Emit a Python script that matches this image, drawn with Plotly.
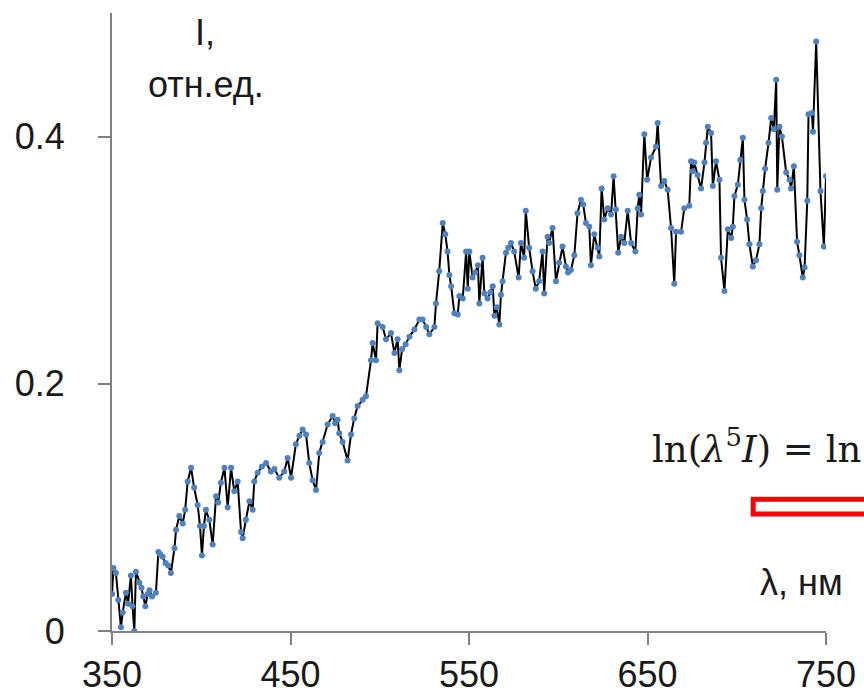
import plotly.graph_objects as go

# Spectrum: wavelength (nm) and relative intensity
wavelength = [
    350.0, 350.8, 352.2, 353.5, 355.0, 356.0, 357.8, 359.0, 360.6, 361.5,
    362.5, 363.4, 365.3, 366.5, 367.5, 368.7, 370.0, 371.0, 372.5, 374.6,
    376.0, 377.0, 378.4, 380.0, 381.5, 383.0, 385.0, 385.9, 387.7, 389.6,
    391.0, 392.4, 394.3, 396.0, 398.0, 399.3, 400.4, 401.5, 402.6, 404.5,
    406.4, 408.3, 409.5, 411.0, 413.0, 414.8, 416.7, 418.5, 420.4, 422.3,
    423.2, 425.0, 427.0, 428.8, 429.7, 431.6, 434.0, 436.3, 439.0, 441.0,
    443.7, 446.5, 448.4, 450.3, 453.0, 455.0, 456.8, 458.7, 460.5, 462.4,
    464.3, 466.1, 468.0, 470.8, 473.6, 475.0, 476.4, 477.3, 479.2, 482.0,
    483.9, 485.7, 487.6, 490.4, 492.3, 495.1, 496.0, 497.9, 498.8, 501.6,
    503.5, 506.3, 508.2, 510.0, 511.0, 512.5, 514.5, 516.6, 519.4, 522.2,
    524.0, 526.0, 527.8, 530.6, 531.5, 533.3, 535.3, 536.7, 538.0, 539.0,
    540.0, 541.8, 543.7, 544.6, 546.5, 548.4, 549.3, 550.2, 552.0, 553.5,
    555.0, 555.8, 557.6, 558.6, 560.4, 562.0, 563.3, 564.2, 565.5, 567.0,
    567.9, 568.8, 570.7, 572.0, 573.5, 575.3, 577.8, 579.1, 580.9, 581.8,
    583.7, 585.6, 587.4, 589.3, 591.2, 592.1, 594.0, 594.9, 596.8, 598.7,
    600.5, 602.4, 604.3, 605.5, 607.1, 609.0, 610.8, 612.7, 614.0, 615.5,
    617.4, 618.3, 620.2, 622.1, 623.0, 624.3, 625.8, 627.7, 629.6, 631.0,
    632.3, 633.6, 635.2, 637.0, 638.9, 640.8, 643.2, 644.5, 645.4, 646.4,
    648.2, 649.8, 652.0, 654.8, 655.7, 657.6, 659.4, 661.3, 663.2, 665.0,
    666.0, 668.8, 670.6, 673.4, 674.4, 675.3, 676.2, 678.1, 680.0, 681.9,
    682.8, 683.8, 685.6, 686.6, 688.4, 690.3, 691.2, 693.1, 695.0, 696.9,
    697.8, 698.7, 700.6, 702.0, 703.4, 704.3, 705.8, 707.1, 709.0, 710.8,
    712.7, 713.7, 714.6, 715.9, 717.8, 719.3, 720.8, 722.1, 722.7, 723.9,
    725.3, 727.7, 729.6, 730.4, 732.0, 733.8, 735.1, 737.0, 738.0, 739.5,
    740.2, 742.1, 742.7, 744.5, 746.9, 748.8, 750.0,
]
intensity = [
    0.030, 0.051, 0.047, 0.025, 0.003, 0.015, 0.031, 0.022, 0.045, 0.020,
    0.000, 0.048, 0.039, 0.035, 0.028, 0.020, 0.030, 0.033, 0.028, 0.031,
    0.064, 0.062, 0.060, 0.055, 0.053, 0.047, 0.067, 0.082, 0.093, 0.087,
    0.098, 0.121, 0.132, 0.116, 0.102, 0.085, 0.061, 0.085, 0.098, 0.090,
    0.070, 0.109, 0.104, 0.120, 0.132, 0.100, 0.132, 0.113, 0.121, 0.080,
    0.075, 0.090, 0.105, 0.098, 0.121, 0.128, 0.133, 0.136, 0.129, 0.131,
    0.124, 0.129, 0.140, 0.124, 0.151, 0.158, 0.163, 0.159, 0.136, 0.122,
    0.114, 0.144, 0.153, 0.167, 0.174, 0.168, 0.171, 0.160, 0.153, 0.138,
    0.159, 0.172, 0.182, 0.187, 0.190, 0.219, 0.233, 0.219, 0.249, 0.246,
    0.236, 0.241, 0.225, 0.236, 0.211, 0.228, 0.232, 0.238, 0.244, 0.252,
    0.252, 0.246, 0.240, 0.246, 0.265, 0.291, 0.330, 0.321, 0.307, 0.288,
    0.279, 0.257, 0.256, 0.271, 0.269, 0.307, 0.277, 0.307, 0.286, 0.290,
    0.296, 0.265, 0.302, 0.273, 0.269, 0.274, 0.279, 0.255, 0.262, 0.248,
    0.272, 0.283, 0.306, 0.310, 0.314, 0.307, 0.286, 0.314, 0.302, 0.340,
    0.310, 0.291, 0.277, 0.283, 0.307, 0.273, 0.319, 0.314, 0.326, 0.283,
    0.298, 0.311, 0.295, 0.290, 0.292, 0.304, 0.338, 0.349, 0.345, 0.330,
    0.327, 0.296, 0.321, 0.310, 0.303, 0.358, 0.333, 0.342, 0.337, 0.368,
    0.341, 0.306, 0.319, 0.314, 0.340, 0.314, 0.307, 0.342, 0.353, 0.337,
    0.402, 0.365, 0.383, 0.392, 0.411, 0.360, 0.364, 0.357, 0.326, 0.281,
    0.323, 0.323, 0.342, 0.344, 0.380, 0.372, 0.379, 0.369, 0.358, 0.379,
    0.395, 0.408, 0.403, 0.360, 0.380, 0.365, 0.302, 0.275, 0.325, 0.318,
    0.327, 0.352, 0.361, 0.381, 0.399, 0.349, 0.333, 0.313, 0.295, 0.300,
    0.313, 0.342, 0.356, 0.374, 0.395, 0.415, 0.406, 0.446, 0.357, 0.408,
    0.400, 0.371, 0.365, 0.358, 0.376, 0.315, 0.304, 0.286, 0.294, 0.348,
    0.418, 0.419, 0.404, 0.477, 0.356, 0.311, 0.368,
]

x_ticks = [350, 450, 550, 650, 750]
y_ticks = [0, 0.2, 0.4]
y_tick_labels = ["0", "0.2", "0.4"]

SANS = "Liberation Sans, Arial, sans-serif"
SERIF = "DejaVu Serif, serif"
AXIS_GRAY = "#808080"
TEXT = "#1a1a1a"

fig = go.Figure()
fig.add_trace(go.Scatter(
    x=wavelength, y=intensity,
    mode="lines+markers",
    line=dict(color="#000000", width=2),
    marker=dict(color="#4f81bd", size=6, symbol="circle"),
    showlegend=False,
))

axis_style = dict(
    showline=True, linecolor=AXIS_GRAY, linewidth=2,
    ticks="outside", ticklen=12, tickwidth=2, tickcolor=AXIS_GRAY,
    showgrid=False, zeroline=False, automargin=False,
    tickfont=dict(family=SANS, size=36, color=TEXT),
)

fig.update_layout(
    width=864, height=698, autosize=False,
    margin=dict(l=112, r=38, t=13, b=67, pad=0),
    plot_bgcolor="white", paper_bgcolor="white",
    font=dict(family=SANS, size=36, color=TEXT),
    xaxis=dict(range=[350, 750], tickvals=x_ticks, ticklabelstandoff=-1,
               **axis_style),
    yaxis=dict(range=[0, 0.5], tickvals=y_ticks, ticktext=y_tick_labels,
               ticklabelstandoff=26, **axis_style),
)

# Axis captions
fig.add_annotation(text="I,", x=0.130, y=0.968, xref="paper", yref="paper",
                   xanchor="center", yanchor="middle", showarrow=False,
                   font=dict(family=SANS, size=36, color=TEXT))
fig.add_annotation(text="отн.ед.", x=0.1317, y=0.884, xref="paper", yref="paper",
                   xanchor="center", yanchor="middle", showarrow=False,
                   font=dict(family=SANS, size=36, color=TEXT))
fig.add_annotation(text="λ, нм", x=0.966, y=0.0777, xref="paper", yref="paper",
                   xanchor="center", yanchor="middle", showarrow=False,
                   font=dict(family=SANS, size=36, color=TEXT))

# Wien approximation formula at the right edge
fig.add_annotation(
    text="ln(<i>λ</i><sup>5</sup><i>I</i>) = ln",
    x=0.7535, y=0.298, xref="paper", yref="paper",
    xanchor="left", yanchor="middle", showarrow=False,
    font=dict(family=SERIF, size=37, color=TEXT),
)

# Red frame at the right edge
fig.add_shape(type="rect", xref="paper", yref="paper",
              x0=0.898, x1=1.3, y0=0.1895, y1=0.213,
              line=dict(color="#ff0000", width=5),
              fillcolor="rgba(0,0,0,0)")

fig.write_html("out.html")
